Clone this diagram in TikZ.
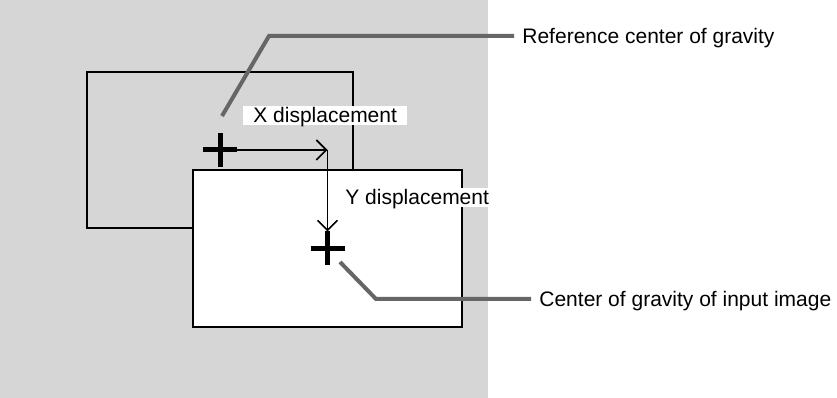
\documentclass[tikz,border=0pt]{standalone}
\usepackage{fontspec}
\setmainfont{Liberation Sans}
\usetikzlibrary{arrows.meta,positioning,calc}
\tikzset{
  backdrop/.style ={fill=black!16,draw=none},
  imgframe/.style ={draw,line width=1bp,inner sep=0pt},
  caption/.style  ={font=\fontsize{10.5bp}{12bp}\selectfont,inner xsep=4bp,inner ysep=0pt,text height=7.5bp,text depth=0pt},
  displabel/.style={caption,fill=white,inner ysep=0.8bp},
  leader/.style   ={draw=black!60,line width=2bp},
  disparrow/.style={-{Straight Barb[length=5bp,width=10bp,line width=0.8bp]},line width=0.7bp},
  cgplus/.pic     ={\draw[line width=2.5bp] (-17,0) -- (17,0) (0,-17) -- (0,17);}
}
\begin{document}
\begin{tikzpicture}[x=0.5bp,y=-0.5bp]
  \useasboundingbox (0,0) rectangle (837,398);
  \path[backdrop] (0,0) rectangle (488,398);
  % the two images
  \node[imgframe,minimum width=133bp,minimum height=78bp] (refimg) at (220,150) {};
  \node[imgframe,fill=white,minimum width=134.5bp,minimum height=78.5bp] (inimg) at (327.5,248.5) {};
  \coordinate (xend) at (inimg.center |- refimg.center);
  \coordinate (yend) at ($(inimg.center)+(0,-17)$);
  % labels
  \node[displabel,anchor=base west,inner xsep=5bp] (xlabel) at (243,123) {X displacement};
  \node[displabel,anchor=base west,inner xsep=2bp] (ylabel) at (341,205) {Y displacement};
  \node[caption,anchor=west] (reflabel) at (514,36) {Reference center of gravity};
  \node[caption,anchor=west] (inlabel)  at (531,299) {Center of gravity of input image};
  % leader lines
  \coordinate (reftail) at (222,116);
  \coordinate (refbend) at (269,36);
  \coordinate (intail)  at (340,262);
  \coordinate (inbend)  at (376,299);
  \draw[leader] (reftail) -- (refbend) -- (reflabel.west);
  \draw[leader] (intail) -- (inbend) -- (inlabel.west);
  % displacement arrows
  \draw[disparrow] (refimg.center) -- (xend);
  \draw[disparrow] (xend) -- (yend);
  % centers of gravity
  \pic at (refimg.center) {cgplus};
  \pic at (inimg.center) {cgplus};
\end{tikzpicture}
\end{document}
